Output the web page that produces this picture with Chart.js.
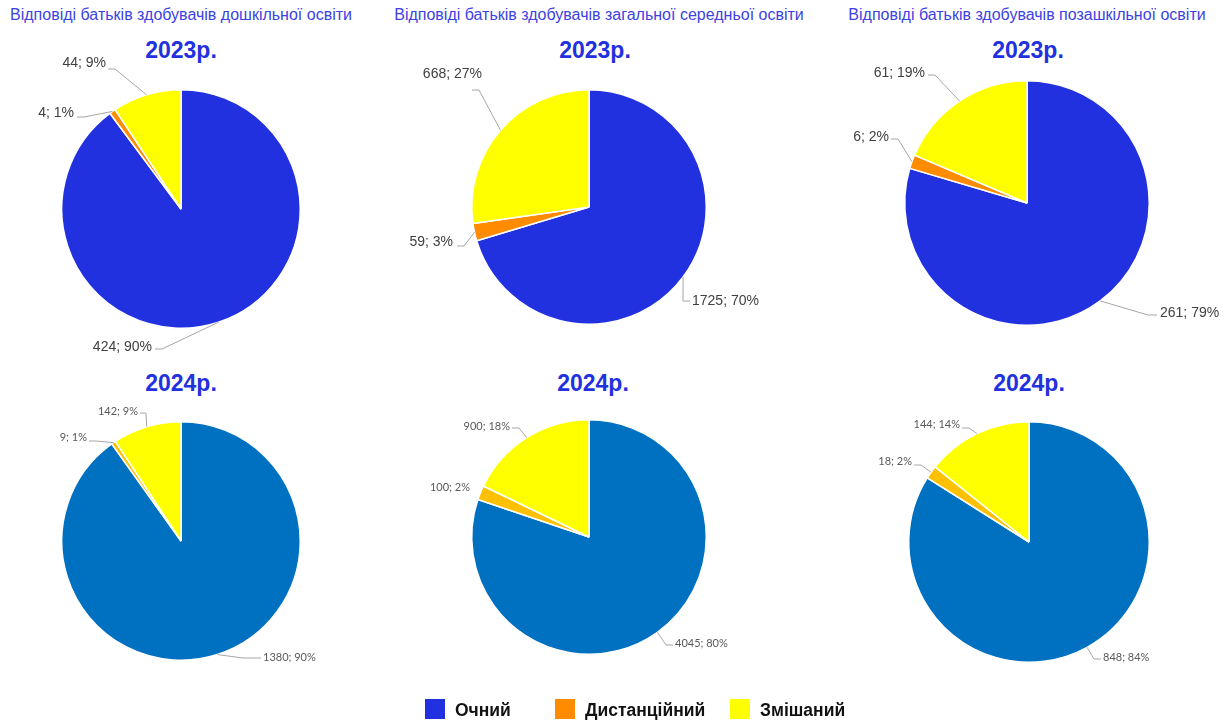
<!DOCTYPE html>
<html>
<head>
<meta charset="utf-8">
<script src="https://cdn.jsdelivr.net/npm/chart.js@4"></script>
<style>
  html, body { margin: 0; padding: 0; background: #fff; }
  #page { position: relative; width: 1230px; height: 720px; overflow: hidden; font-family: Arial, "Liberation Sans", sans-serif; }
  #page canvas { position: absolute; left: 0; top: 0; pointer-events: none; }
  .txt { position: absolute; white-space: nowrap; line-height: 1; }
  .col { font-size: 16px; color: #3d42e3; transform: translateX(-50%); }
  .year { font-size: 23px; font-weight: bold; color: #2231e0; transform: translateX(-50%); }
  .leg { font-size: 17.5px; font-weight: bold; color: #111; }
  .box { position: absolute; width: 20px; height: 20px; }
</style>
</head>
<body>
<div id="page">
  <div class="txt col" style="left:181px;top:7px">Відповіді батьків здобувачів дошкільної освіти</div>
  <div class="txt col" style="left:599px;top:7px">Відповіді батьків здобувачів загальної середньої освіти</div>
  <div class="txt col" style="left:1027px;top:7px">Відповіді батьків здобувачів позашкільної освіти</div>

  <div class="txt year" style="left:181px;top:39px">2023р.</div>
  <div class="txt year" style="left:595px;top:39px">2023р.</div>
  <div class="txt year" style="left:1028px;top:39px">2023р.</div>
  <div class="txt year" style="left:181px;top:372px">2024р.</div>
  <div class="txt year" style="left:593px;top:372px">2024р.</div>
  <div class="txt year" style="left:1029px;top:372px">2024р.</div>

  <canvas id="c1" width="1230" height="720"></canvas>
  <canvas id="c2" width="1230" height="720"></canvas>
  <canvas id="c3" width="1230" height="720"></canvas>
  <canvas id="c4" width="1230" height="720"></canvas>
  <canvas id="c5" width="1230" height="720"></canvas>
  <canvas id="c6" width="1230" height="720"></canvas>

  <div id="legend"></div>
</div>
<script>
// categories
const categories = ['Очний', 'Дистанційний', 'Змішаний'];

// 2023
const preschool2023 = [424, 4, 44];
const preschool2023Pct = [90, 1, 9];
const secondary2023 = [1725, 59, 668];
const secondary2023Pct = [70, 3, 27];
const outOfSchool2023 = [261, 6, 61];
const outOfSchool2023Pct = [79, 2, 19];

// 2024
const preschool2024 = [1380, 9, 142];
const preschool2024Pct = [90, 1, 9];
const secondary2024 = [4045, 100, 900];
const secondary2024Pct = [80, 2, 18];
const outOfSchool2024 = [848, 18, 144];
const outOfSchool2024Pct = [84, 2, 14];

const colors2023 = ['#2231e0', '#ff8c00', '#ffff00'];
const colors2024 = ['#0070c0', '#ffc000', '#ffff00'];
const legendColors = ['#2231e0', '#ff8c00', '#ffff00'];

const W = 1230, H = 720;

// label layout: text anchor (x, y, align) and leader line end (lx, ly), page coords
const spots1 = [
  { x: 152, y: 347, a: 'right', lx: 155, ly: 349 },
  { x: 74, y: 113, a: 'right', lx: 77, ly: 117 },
  { x: 106, y: 63, a: 'right', lx: 108, ly: 69 }
];
const spots2 = [
  { x: 692, y: 301, a: 'left', lx: 690, ly: 301 },
  { x: 453, y: 242, a: 'right', lx: 457, ly: 246 },
  { x: 482, y: 74, a: 'right', lx: 472, ly: 90 }
];
const spots3 = [
  { x: 1160, y: 313, a: 'left', lx: 1157, ly: 315, k: 9 },
  { x: 889, y: 137, a: 'right', lx: 891, ly: 139 },
  { x: 925, y: 73, a: 'right', lx: 928, ly: 75 }
];
const spots4 = [
  { x: 263, y: 657, a: 'left', lx: 261, ly: 658, k: 18 },
  { x: 87, y: 437, a: 'right', lx: 89, ly: 441 },
  { x: 138, y: 411, a: 'right', lx: 140, ly: 413, k: 6 }
];
const spots5 = [
  { x: 675, y: 643, a: 'left', lx: 673, ly: 645 },
  { x: 470, y: 487, a: 'right', lx: null },
  { x: 510, y: 426, a: 'right', lx: 512, ly: 428 }
];
const spots6 = [
  { x: 1103, y: 657, a: 'left', lx: 1101, ly: 659 },
  { x: 912, y: 461, a: 'right', lx: 914, ly: 465 },
  { x: 960, y: 424, a: 'right', lx: 962, ly: 428 }
];

const sliceLabels = {
  id: 'sliceLabels',
  afterDatasetsDraw(chart, args, opts) {
    const ctx = chart.ctx;
    const meta = chart.getDatasetMeta(0);
    const vals = chart.data.datasets[0].data;
    ctx.save();
    meta.data.forEach((arc, i) => {
      const s = opts.spots[i];
      const p = arc.getProps(['x', 'y', 'startAngle', 'endAngle', 'outerRadius'], true);
      const mid = (p.startAngle + p.endAngle) / 2;
      const ex = p.x + Math.cos(mid) * p.outerRadius;
      const ey = p.y + Math.sin(mid) * p.outerRadius;
      if (s.lx != null) {
        const dir = ex > s.lx ? 1 : -1;
        const k = s.k || 7;
        ctx.beginPath();
        ctx.moveTo(ex, ey);
        ctx.lineTo(s.lx + dir * k, s.ly);
        ctx.lineTo(s.lx, s.ly);
        ctx.strokeStyle = '#a6a6a6';
        ctx.lineWidth = 1;
        ctx.stroke();
      }
      ctx.font = opts.font;
      ctx.fillStyle = opts.color;
      ctx.textAlign = s.a;
      ctx.textBaseline = 'middle';
      ctx.fillText(vals[i] + '; ' + opts.pct[i] + '%', s.x, s.y);
    });
    ctx.restore();
  }
};

function makePie(id, cx, cy, r, data, pct, colors, spots, is2024) {
  new Chart(document.getElementById(id), {
    type: 'pie',
    data: {
      labels: categories,
      datasets: [{ data, backgroundColor: colors, borderColor: '#fff', borderWidth: 1.5 }]
    },
    options: {
      responsive: false,
      animation: false,
      events: [],
      layout: { padding: { left: cx - r, right: W - cx - r, top: cy - r, bottom: H - cy - r } },
      plugins: {
        legend: { display: false },
        tooltip: { enabled: false },
        sliceLabels: {
          spots, pct,
          font: is2024 ? '11px Lato, Carlito, sans-serif' : '14px Arial, "Liberation Sans", sans-serif',
          color: is2024 ? '#595959' : '#404040'
        }
      }
    },
    plugins: [sliceLabels]
  });
}

makePie('c1', 181, 209, 120, preschool2023, preschool2023Pct, colors2023, spots1, false);
makePie('c2', 589, 207, 118, secondary2023, secondary2023Pct, colors2023, spots2, false);
makePie('c3', 1027, 203, 123, outOfSchool2023, outOfSchool2023Pct, colors2023, spots3, false);
makePie('c4', 181, 541, 120, preschool2024, preschool2024Pct, colors2024, spots4, true);
makePie('c5', 589, 537, 118, secondary2024, secondary2024Pct, colors2024, spots5, true);
makePie('c6', 1029, 542, 121, outOfSchool2024, outOfSchool2024Pct, colors2024, spots6, true);

// legend
const legendX = [425, 555, 730];
const legend = document.getElementById('legend');
legend.innerHTML = categories.map((c, i) =>
  `<div class="box" style="left:${legendX[i]}px;top:699px;background:${legendColors[i]}"></div>` +
  `<div class="txt leg" style="left:${legendX[i] + 30}px;top:702px">${c}</div>`
).join('');
</script>
</body>
</html>
